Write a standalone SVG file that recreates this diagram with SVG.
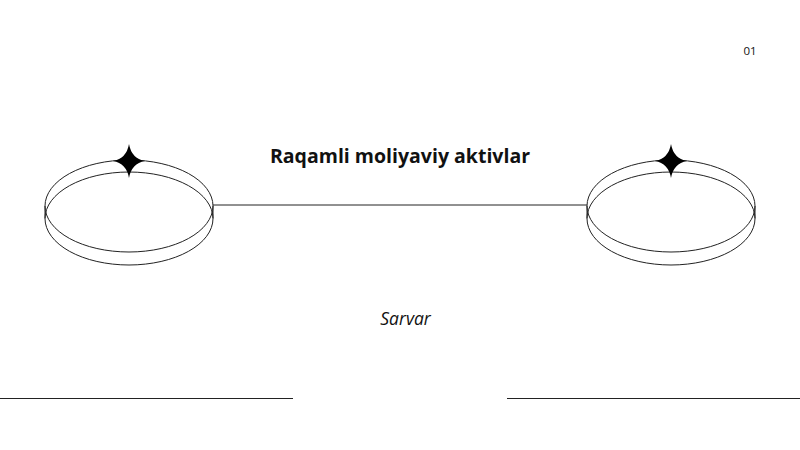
<svg xmlns="http://www.w3.org/2000/svg" width="800" height="450" viewBox="0 0 800 450">
<defs>
<style>
.ring{fill:none;stroke:#222;stroke-width:1}
.line{stroke:#222;stroke-width:1}
.star{fill:#000}
.t{font-family:"Open Sans","Noto Sans","Liberation Sans",sans-serif;fill:#111}
</style>
<path id="star" class="star" d="M0,-17 Q2.5,-2.5 16,0 Q2.5,2.5 0,17 Q-2.5,2.5 -16,0 Q-2.5,-2.5 0,-17 Z"/>
</defs>
<rect width="800" height="450" fill="#fff"/>
<g id="connectors">
<line class="line" x1="213" y1="205" x2="587" y2="205"/>
<line class="line" x1="0" y1="398.5" x2="293" y2="398.5"/>
<line class="line" x1="507" y1="398.5" x2="800" y2="398.5"/>
</g>
<g id="ring-left">
<ellipse class="ring" cx="129" cy="206" rx="84" ry="46"/>
<ellipse class="ring" cx="129" cy="218.5" rx="84" ry="46.5"/>
<line class="line" x1="45" y1="206" x2="45" y2="218.5"/>
<line class="line" x1="213" y1="206" x2="213" y2="218.5"/>
<use href="#star" x="129" y="161"/>
</g>
<g id="ring-right">
<ellipse class="ring" cx="671" cy="206" rx="84" ry="46"/>
<ellipse class="ring" cx="671" cy="218.5" rx="84" ry="46.5"/>
<line class="line" x1="587" y1="206" x2="587" y2="218.5"/>
<line class="line" x1="755" y1="206" x2="755" y2="218.5"/>
<use href="#star" x="671" y="161"/>
</g>
<g id="title">
<text class="t" x="400" y="163" text-anchor="middle" font-size="19.5" font-weight="bold">Raqamli moliyaviy aktivlar</text>
</g>
<g id="author">
<text class="t" x="405.5" y="325" text-anchor="middle" font-size="17.5" font-style="italic">Sarvar</text>
</g>
<g id="page">
<text class="t" x="750" y="55" text-anchor="middle" font-size="11.5">01</text>
</g>
</svg>
